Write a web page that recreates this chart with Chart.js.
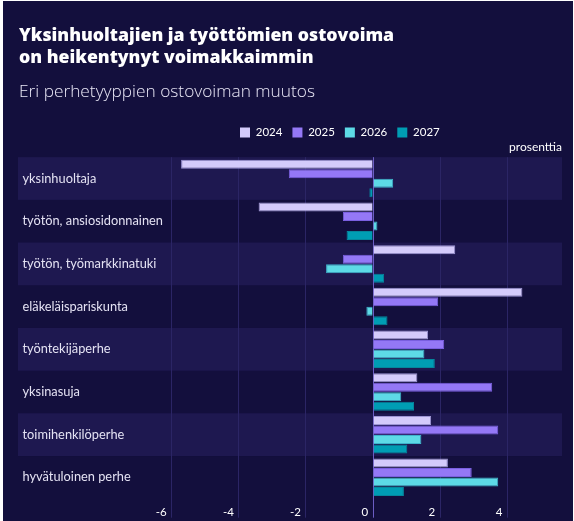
<!DOCTYPE html>
<html>
<head>
<meta charset="utf-8">
<script src="https://cdn.jsdelivr.net/npm/chart.js@4"></script>
<style>
  html, body { margin: 0; padding: 0; background: #ffffff; }
  #card { position: absolute; left: 3px; top: 1px; width: 570px; height: 520px; background: #130f3d; }
</style>
</head>
<body>
<div id="card"><canvas id="chart"></canvas></div>
<script>
const categories = ['yksinhuoltaja', 'työtön, ansiosidonnainen', 'työtön, työmarkkinatuki', 'eläkeläispariskunta',
  'työntekijäperhe', 'yksinasuja', 'toimihenkilöperhe', 'hyvätuloinen perhe'];
const years = ['2024', '2025', '2026', '2027'];
const values2024 = [-5.72, -3.41, 2.45, 4.45, 1.64, 1.32, 1.73, 2.23];
const values2025 = [-2.51, -0.90, -0.90, 1.94, 2.12, 3.55, 3.73, 2.94];
const values2026 = [0.60, 0.13, -1.40, -0.20, 1.53, 0.84, 1.44, 3.73];
const values2027 = [-0.11, -0.79, 0.33, 0.43, 1.84, 1.22, 1.02, 0.92];
const xTicks = [-6, -4, -2, 0, 2, 4];

const fills = ['#d4cbfb', '#9478f6', '#5ddae6', '#009db4'];
const borders = ['#9d95d4', '#7a5fe0', '#3db2cc', '#05879d'];

Chart.defaults.font.family = 'Lato';
Chart.defaults.color = '#ffffff';

// alternating row bands + fixed positions for title and legend
const bands = {
  id: 'bands',
  beforeDraw(chart) {
    const { ctx, chartArea: a, scales: { y } } = chart;
    const step = (a.bottom - a.top) / categories.length;
    ctx.save();
    ctx.fillStyle = '#1e1850';
    categories.forEach((c, i) => {
      if (i % 2 === 0) {
        const mid = y.getPixelForValue(i);
        ctx.fillRect(a.left, mid - step / 2, a.right - a.left, step);
      }
    });
    ctx.restore();
    chart.boxes.forEach(b => {
      if (b !== chart.legend && !b.axis && b.options && 'text' in b.options) {
        b.left = 16;
      }
    });
    if (chart.legend) {
      chart.legend.left = 227;
      chart.legend.top = 115.8;
    }
  }
};

const datasets = [values2024, values2025, values2026, values2027].map((vals, i) => ({
  label: years[i],
  data: vals,
  backgroundColor: fills[i],
  borderColor: borders[i],
  borderWidth: 1,
  categoryPercentage: 0.89,
  barPercentage: 0.95
}));

new Chart(document.getElementById('chart'), {
  type: 'bar',
  data: { labels: categories, datasets: datasets },
  plugins: [bands],
  options: {
    indexAxis: 'y',
    responsive: true,
    maintainAspectRatio: false,
    animation: false,
    layout: { padding: { top: 4, left: 15, right: 11, bottom: 0 } },
    plugins: {
      title: {
        display: true,
        text: ['Yksinhuoltajien ja työttömien ostovoima', 'on heikentynyt voimakkaimmin'],
        align: 'start',
        color: '#ffffff',
        font: { family: 'Open Sans', size: 17.7, weight: 800, lineHeight: 22 / 17.7 },
        padding: { top: 20, bottom: 0 }
      },
      subtitle: {
        display: true,
        text: 'Eri perhetyyppien ostovoiman muutos',
        align: 'start',
        color: '#e9e7f6',
        font: { family: 'Open Sans', size: 17.3, weight: 300, lineHeight: 1.2 },
        padding: { top: 12.9, bottom: 14.1 }
      },
      legend: {
        position: 'top',
        align: 'start',
        labels: {
          boxWidth: 10,
          boxHeight: 10,
          padding: 10,
          color: '#ffffff',
          font: { size: 11.5 },
          generateLabels: (chart) => Chart.defaults.plugins.legend.labels.generateLabels(chart)
            .map(l => ({ ...l, lineWidth: 0, strokeStyle: 'rgba(0,0,0,0)' }))
        }
      },
      tooltip: { enabled: false }
    },
    scales: {
      x: {
        type: 'linear',
        position: 'bottom',
        min: -10.58,
        max: 5.63,
        afterBuildTicks: (s) => { s.ticks = xTicks.map(v => ({ value: v })); },
        afterFit: (s) => { s.height = 22.3; },
        border: { display: false },
        grid: {
          color: (c) => c.tick && c.tick.value === 0 ? '#6b5dc4' : '#2b2565',
          lineWidth: 1,
          drawTicks: true,
          tickLength: 19
        },
        ticks: {
          align: 'end',
          labelOffset: -5,
          padding: -12.3,
          color: '#ffffff',
          font: { size: 11.5 },
          callback: (v) => String(v)
        }
      },
      x2: {
        type: 'linear',
        axis: 'x',
        position: 'top',
        afterFit: (s) => { s.height = 8.9; },
        border: { display: false },
        grid: { display: false, drawTicks: false },
        ticks: { display: false },
        title: {
          display: true,
          text: 'prosenttia',
          align: 'end',
          color: '#ffffff',
          font: { size: 12 },
          padding: { top: -8.7, bottom: 0 }
        }
      },
      y: {
        afterFit: (s) => { s.width = 0; },
        border: { display: false },
        grid: { display: false, drawTicks: false },
        ticks: {
          mirror: true,
          padding: 4.5,
          color: '#e4e2f3',
          font: { size: 12.8 }
        }
      }
    }
  }
});
</script>
</body>
</html>
